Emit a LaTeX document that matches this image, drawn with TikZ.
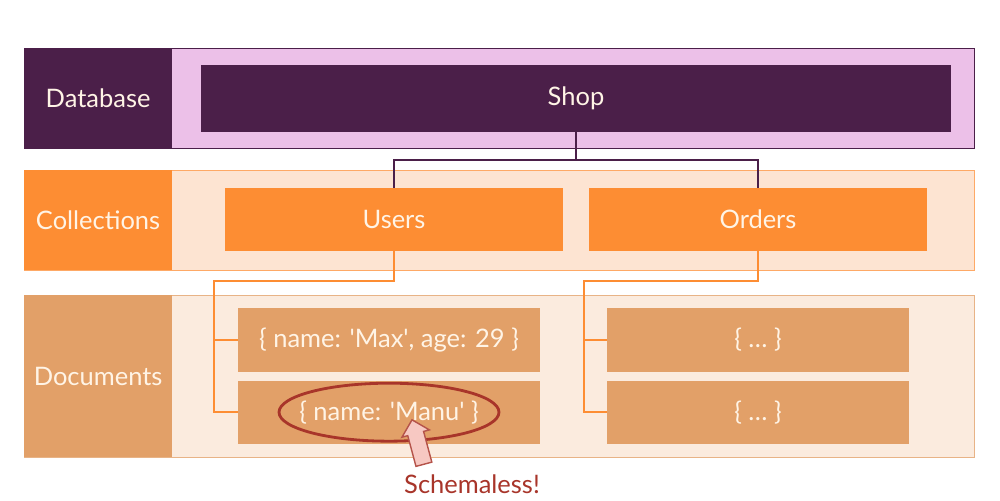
\documentclass[tikz,border=0pt]{standalone}
\usepackage{fontspec}
\setmainfont{Lato}
\usepackage{tikz}
\usetikzlibrary{positioning, shapes.geometric, shapes.arrows}
\definecolor{plum}{HTML}{4B1F49}
\definecolor{lilac}{HTML}{ECC0E8}
\definecolor{tangerine}{HTML}{FD8D33}
\definecolor{peach}{HTML}{FDE4D2}
\definecolor{docorange}{HTML}{E2A068}
\definecolor{cream}{HTML}{FBEBDE}
\definecolor{brick}{HTML}{A8352A}
\definecolor{blush}{HTML}{F7C8C2}
\definecolor{ink}{HTML}{FFF4E6}
\newcommand{\squote}{\textquotesingle}
\tikzset{row box/.style={draw, rectangle, minimum width=19cm, inner sep=0pt}}
\tikzset{label box/.style={rectangle, minimum width=2.96cm, inner sep=0pt, text=ink, font=\fontsize{14.5}{17}\selectfont}}
\tikzset{item box/.style={rectangle, inner sep=0pt, text=ink, font=\fontsize{14.5}{17}\selectfont}}

\begin{document}
\begin{tikzpicture}[x=0.02cm, y=-0.02cm]
			\useasboundingbox (0,0) rectangle (1000,500);
			\node[row box, fill=lilac, draw=plum, minimum height=2cm] (dbrow) at (499,98) {};
			\node[label box, fill=plum, minimum height=2cm, anchor=west] (dblabel) at (dbrow.west) {Database};
			\node[item box, fill=plum, minimum width=15cm, minimum height=1.34cm] (shop) at (576,98.5) {Shop};
			
			\node[row box, fill=peach, draw=tangerine!75, minimum height=2cm] (colrow) at (499,220) {};
			\node[label box, fill=tangerine, minimum height=2cm, anchor=west] (collabel) at (colrow.west) {Collections};
			\node[item box, fill=tangerine, minimum width=6.76cm, minimum height=1.26cm] (users) at (394,219.5) {Users};
			\node[item box, fill=tangerine, minimum width=6.76cm, minimum height=1.26cm] (orders) at (758,219.5) {Orders};
			
			\node[row box, fill=cream, draw=docorange!80, minimum height=3.24cm] (docrow) at (499,376) {};
			\node[label box, fill=docorange, minimum height=3.24cm, anchor=west] (doclabel) at (docrow.west) {Documents};
			\node[item box, fill=docorange, minimum width=6.04cm, minimum height=1.28cm] (ud1) at (389,340) {\{ name: \squote Max\squote, age: 29 \}};
			\node[item box, fill=docorange, minimum width=6.04cm, minimum height=1.26cm, below=0.16cm of ud1] (ud2) {\{ name: \squote Manu\squote\ \}};
			\node[item box, fill=docorange, minimum width=6.04cm, minimum height=1.28cm] (od1) at (758,340) {\{ \ldots\ \}};
			\node[item box, fill=docorange, minimum width=6.04cm, minimum height=1.26cm, below=0.16cm of od1] (od2) {\{ \ldots\ \}};
			
			\coordinate (split) at (576,160);
			\coordinate (ujoin) at (214,281);
			\coordinate (ojoin) at (584,281);
			\draw[plum, line width=1.2pt] (shop.south) -- (split) -| (users.north);
			\draw[plum, line width=1.2pt] (split) -| (orders.north);
			\draw[tangerine, line width=1pt] (users.south) |- (ujoin) |- (ud2.west);
			\draw[tangerine, line width=1pt] (ud1.west) -- (ud1.west -| ujoin);
			\draw[tangerine, line width=1pt] (orders.south) |- (ojoin) |- (od2.west);
			\draw[tangerine, line width=1pt] (od1.west) -- (od1.west -| ojoin);
			
			\node[ellipse, draw=brick, line width=1.6pt, minimum width=4.4cm, minimum height=1.16cm] (manu) at (ud2) {};
			\node[single arrow, draw=brick!85, fill=blush, line width=0.8pt, minimum height=0.92cm, inner xsep=0pt, inner ysep=0.15cm, single arrow head extend=0.12cm, rotate=105] (hint) at (419,446) {};
			\node[text=brick, font=\fontsize{14.5}{17}\selectfont] (schemaless) at (472,484) {Schemaless!};
		\end{tikzpicture}
\end{document}
